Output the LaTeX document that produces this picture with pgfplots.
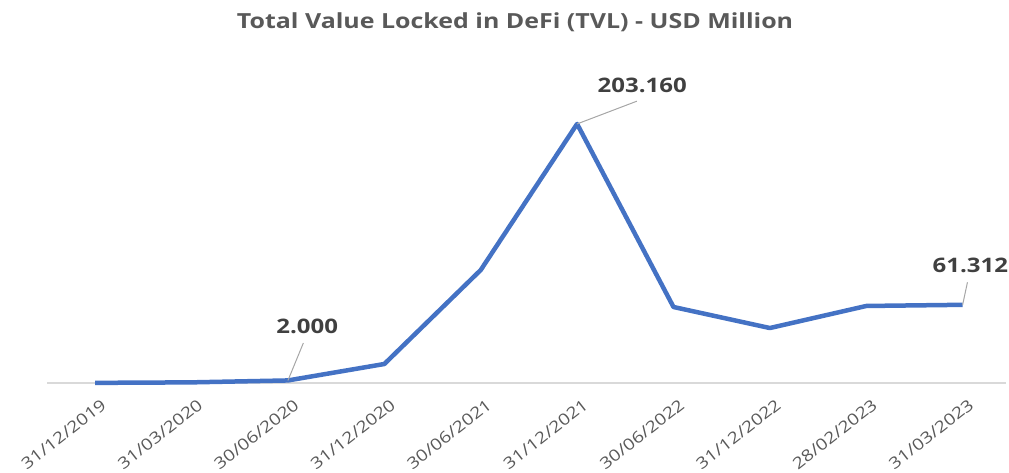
\documentclass[border=0pt]{standalone}
\usepackage{fontspec}
\setmainfont[FakeStretch=1.2]{Open Sans}
\usepackage{pgfplots}
\pgfplotsset{compat=1.18}
\definecolor{linecol}{HTML}{4472C4}
\definecolor{axcol}{HTML}{D9D9D9}
\definecolor{titlecol}{HTML}{595959}
\definecolor{labcol}{HTML}{404040}
\begin{document}
\begin{tikzpicture}[x=1pt,y=1pt]
\begin{axis}[
  at={(47pt,90pt)}, anchor=south west,
  scale only axis, width=959pt, height=323pt,
  xmin=-0.5, xmax=9.45, ymin=0, ymax=253.3,
  axis x line=bottom, axis y line=none,
  axis line style={axcol, line width=1.5pt, -},
  xtick={0,...,9},
  xticklabels={31/12/2019,31/03/2020,30/06/2020,31/12/2020,30/06/2021,31/12/2021,30/06/2022,31/12/2022,28/02/2023,31/03/2023},
  x tick label style={xshift=5pt, yshift=-15pt, rotate=38, anchor=north east, font=\fontsize{16}{18}\selectfont, text=titlecol, inner sep=0pt},
  major tick length=0pt,
  ytick=\empty,
  clip=false,
]
\addplot[linecol, line width=4.5pt, line join=round] coordinates {
(0,0.1) (1,0.5) (2,2.0) (3,14.9) (4,88.6) (5,203.16) (6,59.6) (7,43.1) (8,60.4) (9,61.312)
};
\draw[gray!70, line width=1pt] (axis cs:2,2) -- (axis cs:2.16,31.4);
\draw[gray!70, line width=1pt] (axis cs:5,203.16) -- (axis cs:5.62,221);
\draw[gray!70, line width=1pt] (axis cs:9,61.312) -- (axis cs:9.05,79);
\node[text=labcol, font=\bfseries\fontsize{20}{22}\selectfont] at (axis cs:2.20,44.7) {2.000};
\node[text=labcol, font=\bfseries\fontsize{20}{22}\selectfont] at (axis cs:5.675,233.7) {203.160};
\node[text=labcol, font=\bfseries\fontsize{20}{22}\selectfont] at (axis cs:9.08,92.5) {61.312};
\end{axis}
\node[text=titlecol, font=\bfseries\fontsize{20.8}{23}\selectfont] at (515pt,451pt) {Total Value Locked in DeFi (TVL) - USD Million};
\pgfresetboundingbox
\path[use as bounding box] (0,0) rectangle (1009pt,473pt);
\end{tikzpicture}
\end{document}
